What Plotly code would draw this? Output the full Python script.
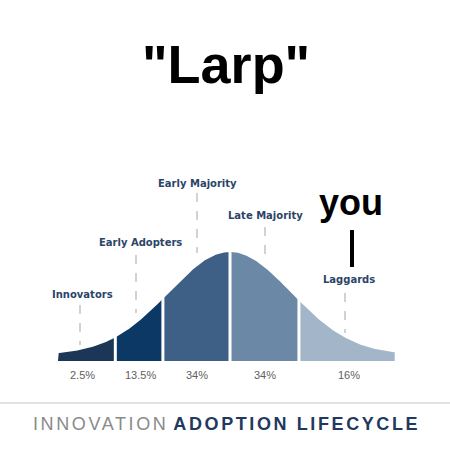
import numpy as np
import plotly.graph_objects as go

# ---- data ----
categories = ["Innovators", "Early Adopters", "Early Majority", "Late Majority", "Laggards"]
shares = ["2.5%", "13.5%", "34%", "34%", "16%"]
# segment edges in standard-deviation units (as drawn)
edges = [-2.82, -1.88, -1.10, 0.0, 1.13, 2.70]
colors = ["#1b3657", "#0c3866", "#3e5f86", "#6c88a7", "#a3b5c9"]
title_text = '"Larp"'
marker_text = "you"

W = H = 450
BASE = 0.055  # thickness of the band under the curve

def P(px):
    return px / W

def Q(py):
    return 1 - py / H

fig = go.Figure()

for i in range(len(categories)):
    z = np.linspace(edges[i], edges[i + 1], 80)
    y = BASE + (1 - BASE) * np.exp(-z ** 2 / 2)
    xs = np.concatenate([[edges[i]], z, [edges[i + 1]]])
    ys = np.concatenate([[0], y, [0]])
    fig.add_trace(go.Scatter(x=xs, y=ys, fill="toself", fillcolor=colors[i],
                             mode="lines", line=dict(width=0, color=colors[i]),
                             hoverinfo="skip", showlegend=False))

# white separators between segments
for e in edges[1:-1]:
    fig.add_shape(type="line", xref="x", yref="y", x0=e, x1=e, y0=-0.02,
                  y1=BASE + (1 - BASE) * np.exp(-e ** 2 / 2) + 0.02,
                  line=dict(color="white", width=3))

label_px = [(82, 294), (140, 242), (197, 183), (265, 215), (349, 279)]
pct_x = [82, 140, 197, 265, 349]
dash_lines = [(80, 305, 345), (136, 255, 313), (197, 193, 253), (265, 227, 257), (345, 293, 333)]

for (lx, ly), name in zip(label_px, categories):
    fig.add_annotation(x=P(lx), y=Q(ly), xref="paper", yref="paper", text=f"<b>{name}</b>",
                       showarrow=False, font=dict(family="DejaVu Sans", size=10, color="#2b4468"),
                       xanchor="center", yanchor="middle")
for px, s in zip(pct_x, shares):
    fig.add_annotation(x=P(px), y=Q(375), xref="paper", yref="paper", text=s,
                       showarrow=False, font=dict(family="Liberation Sans, Arial", size=11, color="#606060"),
                       xanchor="center", yanchor="middle")
for x, y0, y1 in dash_lines:
    fig.add_shape(type="line", xref="paper", yref="paper", x0=P(x), x1=P(x), y0=Q(y0), y1=Q(y1),
                  line=dict(color="#c4c4c4", width=1.5, dash="dash"))

# title
fig.add_annotation(x=P(226), y=Q(64), xref="paper", yref="paper", text=f"<b>{title_text}</b>",
                   showarrow=False, font=dict(family="Liberation Sans, Arial", size=54, color="black"),
                   xanchor="center", yanchor="middle")
# "you" marker
fig.add_annotation(x=P(351), y=Q(202), xref="paper", yref="paper", text=f"<b>{marker_text}</b>",
                   showarrow=False, font=dict(family="Liberation Sans, Arial", size=36, color="black"),
                   xanchor="center", yanchor="middle")
fig.add_shape(type="line", xref="paper", yref="paper", x0=P(352), x1=P(352), y0=Q(230), y1=Q(267),
              line=dict(color="black", width=4))

# bottom rule and caption
fig.add_shape(type="line", xref="paper", yref="paper", x0=0, x1=1, y0=Q(403), y1=Q(403),
              line=dict(color="#e2e2e2", width=2))
fig.add_annotation(x=P(226), y=Q(424), xref="paper", yref="paper",
                   text='<span style="letter-spacing:2.6px;color:#8a8a8a">INNOVATION</span> '
                        '<span style="letter-spacing:2.6px;color:#1f3a5e"><b>ADOPTION LIFECYCLE</b></span>',
                   showarrow=False, font=dict(family="Liberation Sans, Arial", size=18, color="#1f3a5e"),
                   xanchor="center", yanchor="middle")

MEAN_PX, SIGMA_PX = 230, 61
BASE_PX, PEAK_PX = 361, 109
fig.update_layout(
    width=W, height=H, margin=dict(l=0, r=0, t=0, b=0),
    paper_bgcolor="white", plot_bgcolor="white",
    xaxis=dict(range=[-MEAN_PX / SIGMA_PX, (W - MEAN_PX) / SIGMA_PX], visible=False, fixedrange=True),
    yaxis=dict(range=[-(H - BASE_PX) / PEAK_PX, BASE_PX / PEAK_PX], visible=False, fixedrange=True),
    showlegend=False,
)
fig.write_html("out.html", config={"displayModeBar": False},
               post_script="document.body.style.margin='0';document.body.style.overflow='hidden';")
